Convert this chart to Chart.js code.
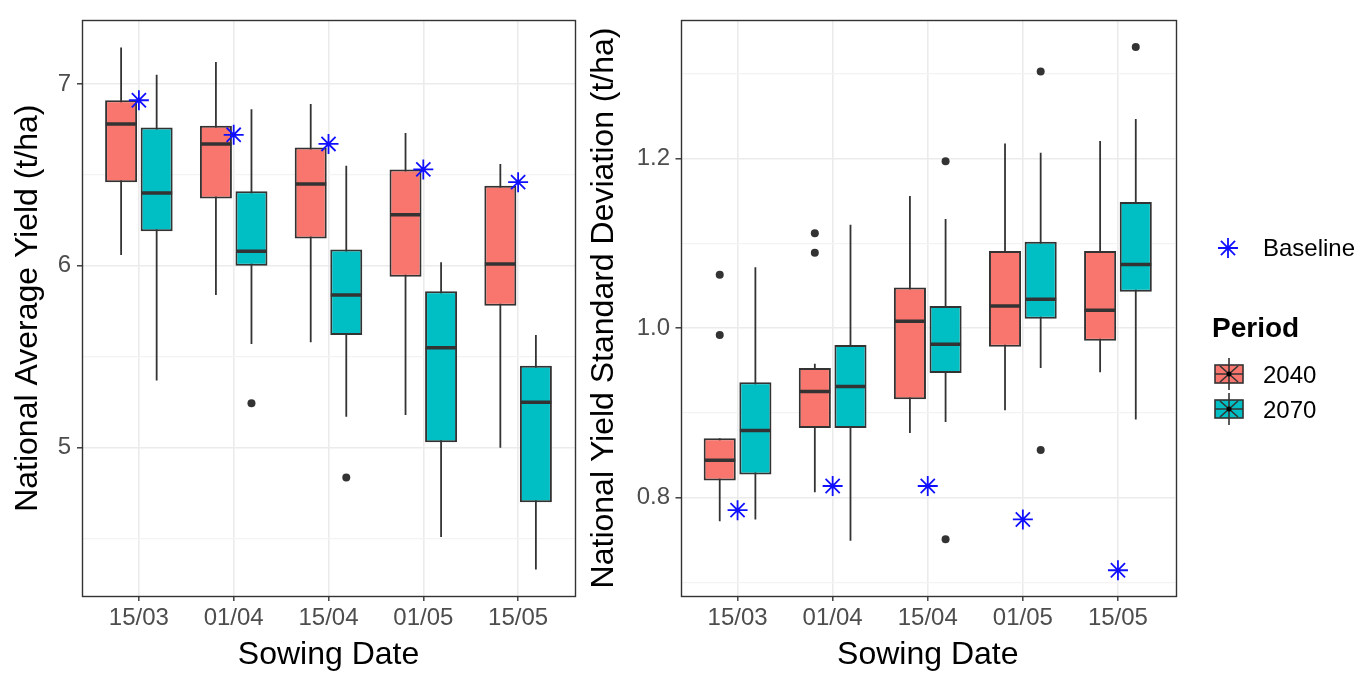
<!DOCTYPE html>
<html>
<head>
<meta charset="utf-8">
<script src="https://cdn.jsdelivr.net/npm/chart.js@4.4.1/dist/chart.umd.min.js"></script>
<style>
  html, body { margin: 0; padding: 0; background: #ffffff; }
  #wrap { position: relative; width: 1360px; height: 673px; overflow: hidden; }
  #yieldChart { position: absolute; left: 0; top: 0; }
  #sdChart { position: absolute; left: 582px; top: 0; }
</style>
</head>
<body>
<div id="wrap">
  <canvas id="yieldChart" width="582" height="673"></canvas>
  <canvas id="sdChart" width="778" height="673"></canvas>
</div>
<script>
// ---- categories ----
const sowingDates = ['15/03', '01/04', '15/04', '01/05', '15/05'];
const periods = ['2040', '2070'];

// ---- National average yield (t/ha): box statistics per sowing date ----
const yieldLow2040 = [6.06, 5.84, 5.58, 5.18, 5.00];
const yieldQ1_2040 = [6.46, 6.37, 6.15, 5.94, 5.78];
const yieldMed2040 = [6.78, 6.67, 6.45, 6.28, 6.01];
const yieldQ3_2040 = [6.91, 6.77, 6.65, 6.53, 6.44];
const yieldHigh2040 = [7.20, 7.12, 6.89, 6.73, 6.56];
const yieldOut2040 = [[], [], [], [], []];

const yieldLow2070 = [5.37, 5.57, 5.17, 4.51, 4.33];
const yieldQ1_2070 = [6.19, 6.00, 5.62, 5.03, 4.70];
const yieldMed2070 = [6.40, 6.08, 5.84, 5.55, 5.25];
const yieldQ3_2070 = [6.76, 6.41, 6.09, 5.86, 5.45];
const yieldHigh2070 = [7.05, 6.86, 6.55, 6.02, 5.62];
const yieldOut2070 = [[], [5.245], [4.837], [], []];

const yieldBaseline = [6.91, 6.72, 6.67, 6.53, 6.46];

// ---- National yield standard deviation (t/ha) ----
const sdLow2040 = [0.772, 0.806, 0.876, 0.903, 0.948];
const sdQ1_2040 = [0.820, 0.882, 0.916, 0.978, 0.985];
const sdMed2040 = [0.844, 0.925, 1.008, 1.026, 1.021];
const sdQ3_2040 = [0.870, 0.953, 1.048, 1.091, 1.091];
const sdHigh2040 = [0.870, 0.958, 1.156, 1.218, 1.221];
const sdOut2040 = [[1.063, 0.992], [1.112, 1.089], [], [], []];

const sdLow2070 = [0.774, 0.749, 0.889, 0.953, 0.892];
const sdQ1_2070 = [0.827, 0.882, 0.947, 1.011, 1.043];
const sdMed2070 = [0.879, 0.931, 0.981, 1.034, 1.075];
const sdQ3_2070 = [0.936, 0.980, 1.026, 1.102, 1.149];
const sdHigh2070 = [1.072, 1.122, 1.129, 1.207, 1.247];
const sdOut2070 = [[], [], [1.197, 0.7505], [1.303, 0.856], [1.332]];

const sdBaseline = [0.785, 0.8135, 0.8135, 0.774, 0.714];

// ---- styling ----
const FONT = '"Liberation Sans", Arial, Helvetica, sans-serif';
const COLORS = { '2040': '#F8766D', '2070': '#00BFC4' };
const INK = '#333333';
const BASELINE_BLUE = '#1010FF';
const DODGE = 0.1875;   // half of the dodge width between periods

// Box-plot layers for one period, built from its statistic arrays
function periodLayers(dx, color, low, q1, med, q3, high, outliers) {
  const xs = sowingDates.map((_, i) => i + dx);
  const outPts = [];
  outliers.forEach((vals, i) => vals.forEach(v => outPts.push({ x: i + dx, y: v })));
  return [
    { // whiskers, drawn beneath the boxes
      type: 'bar', grouped: false, order: 4,
      data: xs.map((x, i) => ({ x, y: [low[i], high[i]] })),
      backgroundColor: INK, borderWidth: 0, maxBarThickness: 1.8
    },
    { // inter-quartile boxes
      type: 'bar', grouped: false, order: 3,
      categoryPercentage: 1, barPercentage: 0.9,
      data: xs.map((x, i) => ({ x, y: [q1[i], q3[i]] })),
      backgroundColor: color, borderColor: INK, borderWidth: 2, borderSkipped: false
    },
    { // medians
      type: 'scatter', order: 2,
      data: xs.map((x, i) => ({ x, y: med[i] })),
      pointStyle: 'line', pointRadius: 15.5, pointHoverRadius: 15.5,
      borderColor: INK, pointBorderColor: INK, pointBorderWidth: 3.5, pointHoverBorderWidth: 3.5
    },
    { // outliers
      type: 'scatter', order: 1,
      data: outPts,
      pointStyle: 'circle', pointRadius: 4, pointHoverRadius: 4,
      backgroundColor: INK, pointBackgroundColor: INK, pointBorderWidth: 0
    }
  ];
}

function baselineLayer(values) {
  return {
    type: 'scatter', order: 0,
    data: values.map((v, i) => ({ x: i, y: v })),
    pointStyle: 'star', pointRadius: 10, pointHoverRadius: 10,
    borderColor: BASELINE_BLUE, pointBorderColor: BASELINE_BLUE,
    pointBorderWidth: 1.8, pointHoverBorderWidth: 1.8
  };
}

// Panel border around the plotting area
const panelBorder = {
  id: 'panelBorder',
  afterDatasetsDraw(chart) {
    const { ctx, chartArea: a } = chart;
    ctx.save();
    ctx.strokeStyle = INK;
    ctx.lineWidth = 1.4;
    ctx.strokeRect(Math.round(a.left) + 0.5, Math.round(a.top) + 0.5,
                   Math.round(a.right - a.left), Math.round(a.bottom - a.top));
    ctx.restore();
  }
};

// Legend: baseline marker and period keys
const sideLegend = {
  id: 'sideLegend',
  afterDraw(chart) {
    const { ctx, chartArea: a } = chart;
    const kx = a.right + 54;
    const tx = a.right + 88;
    ctx.save();
    ctx.strokeStyle = BASELINE_BLUE;
    ctx.lineWidth = 1.8;
    Chart.helpers.drawPoint(ctx, { pointStyle: 'star', radius: 10, rotation: 0, borderWidth: 1.8 }, kx - 1, 248);

    ctx.fillStyle = '#000000';
    ctx.textBaseline = 'alphabetic';
    ctx.textAlign = 'left';
    ctx.font = '24px ' + FONT;
    ctx.fillText('Baseline', tx, 256);

    ctx.font = 'bold 28px ' + FONT;
    ctx.fillText('Period', a.right + 37, 337);

    const keyY = [374, 409];
    periods.forEach((p, k) => {
      const cy = keyY[k];
      ctx.fillStyle = COLORS[p];
      ctx.fillRect(kx - 14, cy - 9, 28, 18);
      ctx.strokeStyle = INK;
      ctx.lineWidth = 1.6;
      ctx.strokeRect(kx - 14, cy - 9, 28, 18);
      ctx.beginPath();
      ctx.moveTo(kx, cy - 16); ctx.lineTo(kx, cy + 16);
      ctx.moveTo(kx - 14, cy); ctx.lineTo(kx + 14, cy);
      ctx.moveTo(kx - 9, cy - 8); ctx.lineTo(kx + 9, cy + 8);
      ctx.moveTo(kx - 9, cy + 8); ctx.lineTo(kx + 9, cy - 8);
      ctx.stroke();
      ctx.fillStyle = '#000000';
      ctx.beginPath(); ctx.arc(kx, cy, 2.5, 0, Math.PI * 2); ctx.fill();
      ctx.font = '24px ' + FONT;
      ctx.fillText(p, tx, cy + 9);
    });
    ctx.restore();
  }
};

function makePanel(canvasId, cfg) {
  const isMajor = cfg.isMajor;
  return new Chart(document.getElementById(canvasId), {
    type: 'bar',
    data: {
      datasets: [
        ...periodLayers(-DODGE, COLORS['2040'], ...cfg.p2040),
        ...periodLayers(DODGE, COLORS['2070'], ...cfg.p2070),
        baselineLayer(cfg.baseline)
      ]
    },
    options: {
      responsive: false,
      devicePixelRatio: 1,
      animation: false,
      events: [],
      layout: { autoPadding: false, padding: { left: 0, top: 16, right: cfg.padRight, bottom: 0 } },
      plugins: { legend: { display: false }, tooltip: { enabled: false } },
      scales: {
        x: {
          type: 'linear', min: -0.6, max: 4.6, offset: false,
          afterFit(s) { s.height = 77; s.paddingLeft = 0; s.paddingRight = 0; },
          border: { display: false },
          grid: { offset: false, color: '#EBEBEB', lineWidth: 1.6, tickColor: INK, tickWidth: 1.4, tickLength: 5 },
          ticks: {
            stepSize: 1, includeBounds: false, autoSkip: false, maxRotation: 0,
            padding: 3, color: '#4D4D4D', font: { family: FONT, size: 24 },
            callback: v => sowingDates[Math.round(v)]
          },
          title: {
            display: true, text: 'Sowing Date', color: '#000000',
            font: { family: FONT, size: 32, lineHeight: 1 }, padding: { top: 0, bottom: 1.5 }
          }
        },
        y: {
          type: 'linear', min: cfg.yMin, max: cfg.yMax, beginAtZero: false,
          afterFit(s) { s.width = cfg.yWidth; },
          border: { display: false },
          grid: {
            color: c => isMajor(c.tick.value) ? '#EBEBEB' : '#F3F3F3',
            lineWidth: c => isMajor(c.tick.value) ? 1.6 : 1.2,
            tickColor: c => isMajor(c.tick.value) ? INK : 'rgba(0,0,0,0)',
            tickWidth: 1.4, tickLength: 5
          },
          ticks: {
            stepSize: cfg.step, includeBounds: false, autoSkip: false,
            padding: cfg.tickPad, color: '#4D4D4D', font: { family: FONT, size: 24 },
            callback: v => isMajor(v) ? cfg.fmt(v) : ''
          },
          title: {
            display: true, text: cfg.title, color: '#000000',
            font: { family: FONT, size: 32, lineHeight: 1 }, padding: { top: cfg.titlePad, bottom: 0 }
          }
        }
      }
    },
    plugins: cfg.plugins
  });
}

makePanel('yieldChart', {
  p2040: [yieldLow2040, yieldQ1_2040, yieldMed2040, yieldQ3_2040, yieldHigh2040, yieldOut2040],
  p2070: [yieldLow2070, yieldQ1_2070, yieldMed2070, yieldQ3_2070, yieldHigh2070, yieldOut2070],
  baseline: yieldBaseline,
  yMin: 4.185, yMax: 7.349, step: 0.5,
  isMajor: v => Math.abs(v - Math.round(v)) < 1e-6,
  fmt: v => String(Math.round(v)),
  title: 'National Average Yield (t/ha)',
  yWidth: 82, padRight: 7, tickPad: 6, titlePad: 12,
  plugins: [panelBorder]
});

makePanel('sdChart', {
  p2040: [sdLow2040, sdQ1_2040, sdMed2040, sdQ3_2040, sdHigh2040, sdOut2040],
  p2070: [sdLow2070, sdQ1_2070, sdMed2070, sdQ3_2070, sdHigh2070, sdOut2070],
  baseline: sdBaseline,
  yMin: 0.6836, yMax: 1.364, step: 0.1,
  isMajor: v => Math.round(v * 10) % 2 === 0,
  fmt: v => v.toFixed(1),
  title: 'National Yield Standard Deviation (t/ha)',
  yWidth: 98.5, padRight: 185, tickPad: 5.5, titlePad: 6,
  plugins: [panelBorder, sideLegend]
});
</script>
</body>
</html>
